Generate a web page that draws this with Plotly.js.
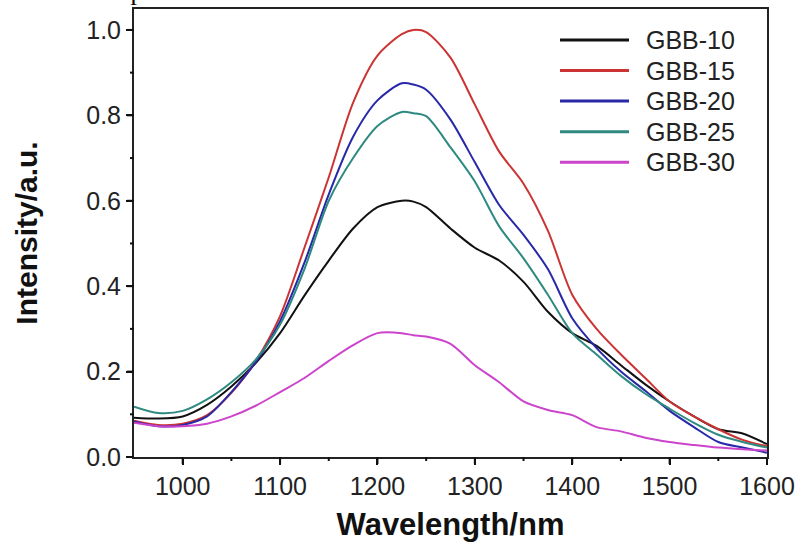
<!DOCTYPE html>
<html>
<head>
<meta charset="utf-8">
<script src="https://cdn.plot.ly/plotly-3.0.1.min.js"></script>
<style>html,body{margin:0;padding:0;background:#fff;}#chart{width:800px;height:544px;}</style>
</head>
<body>
<div id="chart"></div>
<script>
const wavelength = [950, 975, 1000, 1025, 1050, 1075, 1100, 1125, 1150, 1175, 1200, 1225, 1237, 1250, 1275, 1300, 1325, 1350, 1375, 1400, 1425, 1450, 1475, 1500, 1525, 1550, 1575, 1600];
const gbb10 = [0.092, 0.090, 0.095, 0.122, 0.165, 0.220, 0.290, 0.378, 0.460, 0.535, 0.585, 0.600, 0.598, 0.585, 0.535, 0.490, 0.460, 0.410, 0.340, 0.290, 0.260, 0.215, 0.170, 0.130, 0.095, 0.065, 0.055, 0.030];
const gbb15 = [0.085, 0.075, 0.078, 0.098, 0.150, 0.225, 0.330, 0.490, 0.655, 0.830, 0.940, 0.990, 1.000, 0.995, 0.935, 0.825, 0.715, 0.640, 0.530, 0.380, 0.300, 0.240, 0.185, 0.130, 0.095, 0.065, 0.040, 0.025];
const gbb20 = [0.083, 0.072, 0.075, 0.095, 0.152, 0.222, 0.318, 0.455, 0.615, 0.750, 0.835, 0.875, 0.872, 0.860, 0.790, 0.690, 0.590, 0.520, 0.440, 0.325, 0.255, 0.200, 0.155, 0.108, 0.070, 0.035, 0.022, 0.010];
const gbb25 = [0.118, 0.103, 0.108, 0.135, 0.175, 0.228, 0.310, 0.440, 0.600, 0.700, 0.775, 0.808, 0.805, 0.798, 0.725, 0.645, 0.540, 0.465, 0.380, 0.290, 0.240, 0.190, 0.148, 0.113, 0.080, 0.052, 0.035, 0.022];
const gbb30 = [0.080, 0.072, 0.072, 0.078, 0.095, 0.120, 0.152, 0.185, 0.225, 0.262, 0.290, 0.290, 0.285, 0.282, 0.265, 0.215, 0.175, 0.130, 0.110, 0.098, 0.070, 0.060, 0.045, 0.035, 0.028, 0.022, 0.018, 0.015];
const seriesNames = ['GBB-10', 'GBB-15', 'GBB-20', 'GBB-25', 'GBB-30'];
const seriesColors = ['#111111', '#cc3333', '#2828a8', '#2e8a80', '#cc44cc'];
const xMajorTicks = [1000, 1100, 1200, 1300, 1400, 1500, 1600];
const xMinorTicks = [1050, 1150, 1250, 1350, 1450, 1550];
const yMajorTicks = [0.0, 0.2, 0.4, 0.6, 0.8, 1.0];
const yMinorTicks = [0.1, 0.3, 0.5, 0.7, 0.9];

const allY = [gbb10, gbb15, gbb20, gbb25, gbb30];
const traces = allY.map((ys, i) => ({
  type: 'scatter', mode: 'lines', x: wavelength, y: ys, name: seriesNames[i],
  line: {color: seriesColors[i], width: 2, shape: 'spline', smoothing: 0.8}
}));

const W = 800, H = 544, M = {l: 134, r: 33, t: 9, b: 87};
const plotW = W - M.l - M.r, plotH = H - M.t - M.b;
const tickColor = '#111111';

// outside tick marks on the bottom and left axes, placed with the axes' own data scale
const shapes = [];
function xTick(v, len) {
  shapes.push({type: 'line', xref: 'x', yref: 'paper', x0: v, x1: v, y0: 0, y1: -len / plotH,
               line: {color: tickColor, width: 2}, layer: 'above'});
}
function yTick(v, len) {
  shapes.push({type: 'line', xref: 'paper', yref: 'y', x0: 0, x1: -len / plotW, y0: v, y1: v,
               line: {color: tickColor, width: 2}, layer: 'above'});
}
xMajorTicks.forEach(v => xTick(v, 7));
xMinorTicks.forEach(v => xTick(v, 4));
yMajorTicks.forEach(v => yTick(v, 7));
yMinorTicks.forEach(v => yTick(v, 4));

// hand-drawn legend (longer sample lines than Plotly's built-in legend)
const legX0 = 0.673, legX1 = 0.782, legTextX = 0.805, legY0 = 0.931, legStep = 0.0683;
seriesNames.forEach((n, i) => shapes.push({
  type: 'line', xref: 'paper', yref: 'paper', x0: legX0, x1: legX1,
  y0: legY0 - i * legStep, y1: legY0 - i * legStep,
  line: {color: seriesColors[i], width: 3}
}));
const annotations = seriesNames.map((n, i) => ({
  text: n, xref: 'paper', yref: 'paper', x: legTextX, y: legY0 - i * legStep,
  xanchor: 'left', yanchor: 'middle', showarrow: false,
  font: {size: 25, color: '#222'}
}));
annotations.push({
  text: 'ood of multiphonon relaxation.', xref: 'paper', yref: 'paper', x: -0.212, y: 1, xanchor: 'left', yanchor: 'bottom',
  yshift: 1, showarrow: false, font: {family: 'Liberation Serif, Times New Roman, serif', size: 26, color: '#000'}
});

const layout = {
  width: W, height: H,
  margin: M,
  paper_bgcolor: '#ffffff', plot_bgcolor: '#ffffff',
  font: {family: 'Liberation Sans, Arial, sans-serif', color: '#222'},
  showlegend: false,
  xaxis: {range: [950, 1600], tickmode: 'array', tickvals: xMajorTicks, ticktext: xMajorTicks.map(String),
          ticks: 'outside', ticklen: 6, tickwidth: 2, tickcolor: tickColor,
          showline: true, linewidth: 2, linecolor: '#222', mirror: true,
          showgrid: false, zeroline: false,
          tickfont: {size: 25, color: '#222'},
          title: {text: '<b>Wavelength/nm</b>', font: {size: 31, color: '#111'}, standoff: 14}},
  yaxis: {range: [0, 1.049], tickmode: 'array', tickvals: yMajorTicks, ticktext: yMajorTicks.map(v => v.toFixed(1)),
          ticks: 'outside', ticklen: 6, tickwidth: 2, tickcolor: tickColor,
          showline: true, linewidth: 2, linecolor: '#222', mirror: true,
          showgrid: false, zeroline: false,
          tickfont: {size: 25, color: '#222'},
          title: {text: '<b>Intensity/a.u.</b>', font: {size: 30, color: '#111'}, standoff: 40}},
  shapes: shapes,
  annotations: annotations
};

Plotly.newPlot('chart', traces, layout, {displayModeBar: false, staticPlot: true});
</script>
</body>
</html>
